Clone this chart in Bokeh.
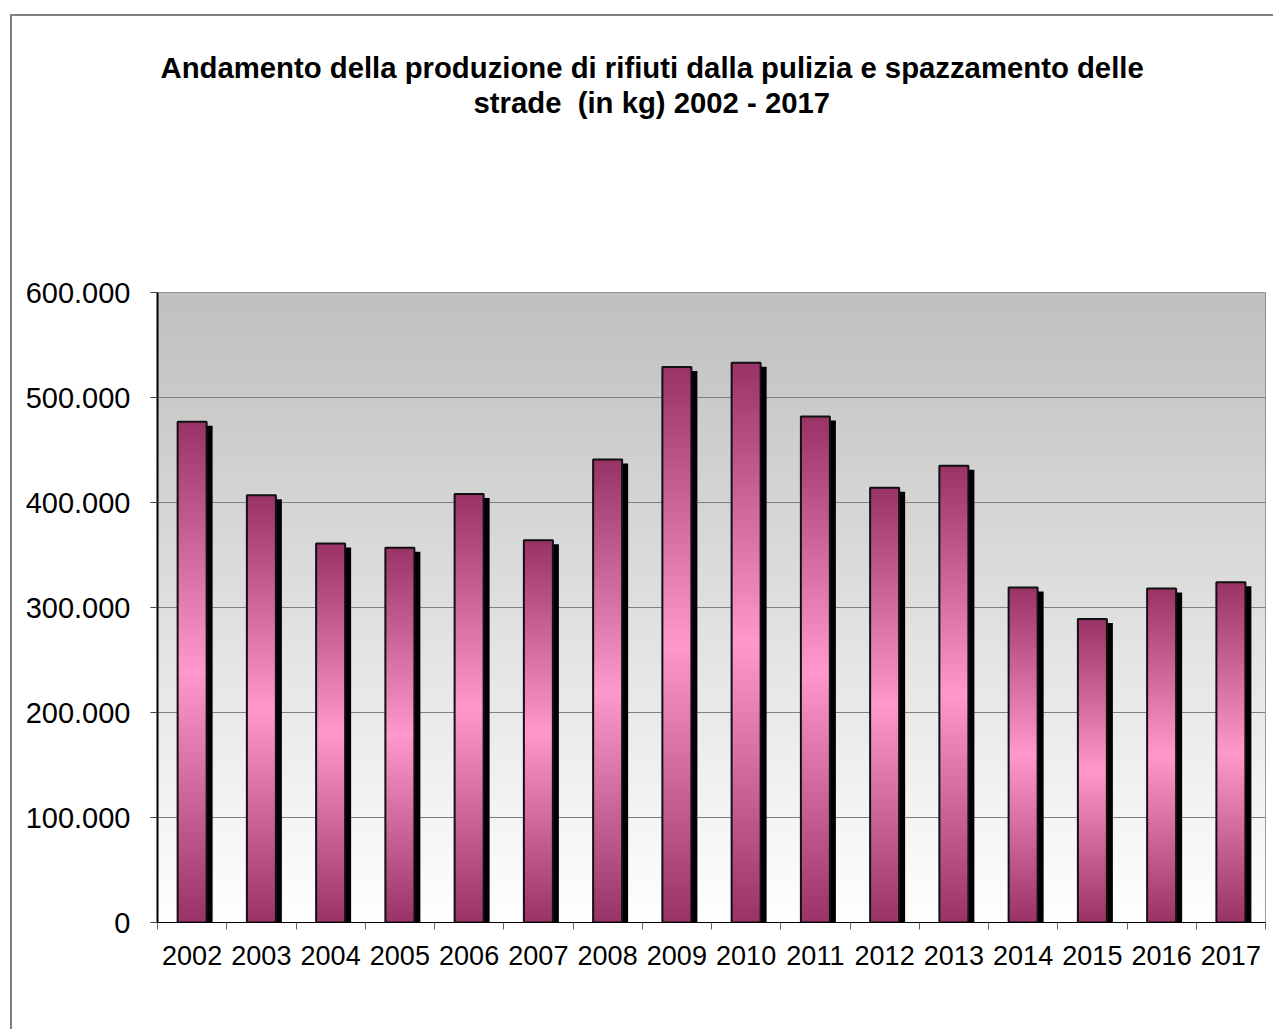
import numpy as np
from bokeh.plotting import figure
from bokeh.models import Range1d, FixedTicker, CustomJSTickFormatter, Title
from bokeh.embed import file_html
from bokeh.resources import INLINE

# ---- data ----
years = ["2002", "2003", "2004", "2005", "2006", "2007", "2008", "2009",
         "2010", "2011", "2012", "2013", "2014", "2015", "2016", "2017"]
values = [477000, 407000, 361000, 357000, 408000, 364000, 441000, 529000,
          533000, 482000, 414000, 435000, 319000, 289000, 318000, 324000]
y_ticks = [0, 100000, 200000, 300000, 400000, 500000, 600000]
title_line1 = "Andamento della produzione di rifiuti dalla pulizia e spazzamento delle"
title_line2 = "strade \u00a0(in kg) 2002 - 2017"

FONT = "Liberation Sans"
W, H = 1275, 1031
OFF_L, OFF_T, BW = 10, 14, 2       # outer border position / width
n = len(years)
YMAX = 600000

FW = W - OFF_L - BW
FH = H - OFF_T - BW
BL = 157 - OFF_L - BW
BT = 292 - OFF_T - BW
BR = 10
BB = 109

p = figure(width=FW, height=FH, output_backend="svg", toolbar_location=None,
           x_range=Range1d(0, n), y_range=Range1d(0, YMAX),
           min_border_left=BL, min_border_right=BR,
           min_border_top=BT, min_border_bottom=BB)
p.margin = (OFF_T, 0, 0, OFF_L)
p.styles = {"border-top": "%dpx solid #808080" % BW,
            "border-left": "%dpx solid #808080" % BW}
p.border_fill_color = "white"
p.background_fill_color = "white"
p.outline_line_color = "#808080"
p.outline_line_width = 1

# background vertical gradient (white at bottom -> light gray at top)
ny = 256
g = np.linspace(255, 192, ny).astype(np.uint8)
img = np.empty((ny, 1), dtype=np.uint32)
view = img.view(dtype=np.uint8).reshape((ny, 1, 4))
view[:, 0, 0] = g
view[:, 0, 1] = g
view[:, 0, 2] = g
view[:, 0, 3] = 255
bg = p.image_rgba(image=[img], x=0, y=0, dw=n, dh=YMAX)
bg.level = "image"

# geometry in data units
frame_w_px = FW - BL - BR
frame_h_px = FH - BT - BB
px_x = n / frame_w_px
px_y = YMAX / frame_h_px
bar_w = 29 * px_x
xc = [i + 0.5 for i in range(n)]

# shadows
p.vbar(x=[x + 6 * px_x for x in xc], width=bar_w, bottom=0,
       top=[v - 4 * px_y for v in values], fill_color="black", line_color=None)

# gradient bars (dark at ends, pink in the middle)
dark = np.array([153, 51, 102])
pink = np.array([255, 153, 204])
nb = 256
t = (np.arange(nb) + 0.5) / nb
f = 1 - np.abs(2 * t - 1)
cols = dark[None, :] + f[:, None] * (pink - dark)[None, :]
bimg = np.empty((nb, 1), dtype=np.uint32)
bv = bimg.view(dtype=np.uint8).reshape((nb, 1, 4))
bv[:, 0, 0] = np.round(cols[:, 0]).astype(np.uint8)
bv[:, 0, 1] = np.round(cols[:, 1]).astype(np.uint8)
bv[:, 0, 2] = np.round(cols[:, 2]).astype(np.uint8)
bv[:, 0, 3] = 255
p.image_rgba(image=[bimg] * n, x=[x - bar_w / 2 for x in xc], y=[0] * n,
             dw=[bar_w] * n, dh=values)

# outlines
p.vbar(x=xc, width=bar_w, bottom=0, top=values, fill_color=None,
       line_color="#111111", line_width=2)

# axes
p.xaxis.ticker = FixedTicker(ticks=xc, minor_ticks=list(range(n + 1)))
p.xaxis.formatter = CustomJSTickFormatter(args=dict(labels=years),
                                          code="return labels[Math.floor(tick)] || '';")
p.xaxis.major_tick_out = 0
p.xaxis.major_tick_in = 0
p.xaxis.minor_tick_out = 7
p.xaxis.minor_tick_in = 0
p.xaxis.minor_tick_line_color = "#666666"
p.xaxis.axis_line_color = "black"
p.xaxis.major_label_text_font = FONT
p.xaxis.major_label_text_font_size = "27px"
p.xaxis.major_label_text_color = "black"
p.xaxis.major_label_standoff = 16

p.yaxis.ticker = FixedTicker(ticks=y_ticks, minor_ticks=[])
p.yaxis.formatter = CustomJSTickFormatter(code=r"""
if (tick == 0) return '0';
return String(Math.round(tick)).replace(/\B(?=(\d{3})+(?!\d))/g, '.');
""")
p.yaxis.major_tick_out = 7
p.yaxis.major_tick_in = 0
p.yaxis.major_tick_line_color = "#444444"
p.yaxis.minor_tick_line_color = None
p.yaxis.axis_line_color = "black"
p.yaxis.axis_line_width = 2
p.yaxis.major_label_text_font = FONT
p.yaxis.major_label_text_font_size = "29px"
p.yaxis.major_label_text_color = "black"
p.yaxis.major_label_standoff = 20

p.xgrid.visible = False
p.ygrid.grid_line_color = "#808080"
p.ygrid.grid_line_width = 1

# title: spacer (nearest the frame), then line 2, then line 1
p.add_layout(Title(text=" ", text_font_size="1px", standoff=170, align="left"), "above")
p.add_layout(Title(text=title_line2, align="left", offset=473 - 157,
                   vertical_align="middle", standoff=0, text_font=FONT,
                   text_font_style="bold", text_font_size="29.3px",
                   text_color="black", text_line_height=1.0), "above")
p.add_layout(Title(text=title_line1, align="left", offset=160 - 157,
                   vertical_align="middle", standoff=0, text_font=FONT,
                   text_font_style="bold", text_font_size="29.3px",
                   text_color="black", text_line_height=1.0), "above")

open("out.html", "w").write(file_html(p, INLINE))
